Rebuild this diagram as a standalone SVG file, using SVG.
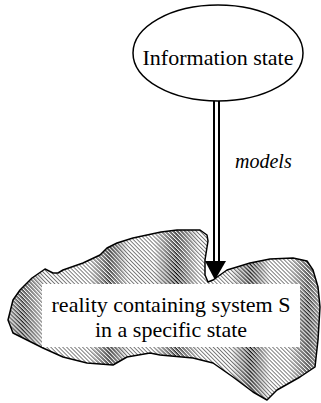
<svg xmlns="http://www.w3.org/2000/svg" width="321" height="403" viewBox="0 0 321 403">
  <style>
    .lbl { font-family: "Liberation Serif", "Times New Roman", serif; font-size: 22px; fill: #000; }
    .edge-lbl { font-family: "Liberation Serif", "Times New Roman", serif; font-size: 20px; font-style: italic; fill: #000; }
    .outline { fill: none; stroke: #000; stroke-width: 1.5; stroke-linejoin: round; }
  </style>
  <defs>
    <pattern id="hatch" width="2.8" height="2.8" patternUnits="userSpaceOnUse" patternTransform="rotate(-45)">
      <rect width="2.8" height="2.8" fill="#fff"/>
      <line x1="0" y1="0" x2="0" y2="2.8" stroke="#000" stroke-width="1"/>
    </pattern>
    <pattern id="hatchDark" width="2.8" height="2.8" patternUnits="userSpaceOnUse" patternTransform="rotate(-45)">
      <line x1="1.4" y1="0" x2="1.4" y2="2.8" stroke="#000" stroke-width="1"/>
    </pattern>
    <linearGradient id="bands" x1="0" y1="0" x2="321" y2="0" gradientUnits="userSpaceOnUse">
      <stop offset="0" stop-color="#fff" stop-opacity="0"/>
      <stop offset="0.07" stop-color="#fff" stop-opacity="0.9"/>
      <stop offset="0.14" stop-color="#fff" stop-opacity="0"/>
      <stop offset="0.28" stop-color="#fff" stop-opacity="0"/>
      <stop offset="0.34" stop-color="#fff" stop-opacity="1"/>
      <stop offset="0.40" stop-color="#fff" stop-opacity="0"/>
      <stop offset="0.48" stop-color="#fff" stop-opacity="0"/>
      <stop offset="0.55" stop-color="#fff" stop-opacity="1"/>
      <stop offset="0.62" stop-color="#fff" stop-opacity="0"/>
      <stop offset="0.72" stop-color="#fff" stop-opacity="0"/>
      <stop offset="0.78" stop-color="#fff" stop-opacity="1"/>
      <stop offset="0.84" stop-color="#fff" stop-opacity="0"/>
      <stop offset="0.90" stop-color="#fff" stop-opacity="0"/>
      <stop offset="0.96" stop-color="#fff" stop-opacity="0.9"/>
      <stop offset="1" stop-color="#fff" stop-opacity="0.3"/>
    </linearGradient>
    <mask id="bandMask" maskUnits="userSpaceOnUse" x="0" y="0" width="321" height="403">
      <rect x="0" y="0" width="321" height="403" fill="url(#bands)"/>
    </mask>
    <path id="blobShape" d="M8,320 L13,300 L20,290 L32,278 L45,269 L53,273 L58,273 L63,270 L83,263 L100,255 L107,248 L117,243 L133,238 L147,235 L161,232 L177,230 L200,230 L207,235 L208,241 L205,260 L205,275 L208,282 L213,280 L227,270 L237,267 L250,263 L270,259 L293,258 L307,261 L313,270 L318,287 L320,307 L318,340 L315,367 L300,377 L277,390 L267,400 L253,392 L233,377 L213,363 L193,358 L160,355 L150,353 L127,357 L113,365 L87,363 L63,357 L43,348 L27,340 L13,333 Z"/>
  </defs>

  <g id="reality">
    <use href="#blobShape" fill="url(#hatch)"/>
    <use href="#blobShape" fill="url(#hatchDark)" mask="url(#bandMask)"/>
    <use href="#blobShape" class="outline"/>
    <rect x="42" y="284" width="258" height="63" fill="#fff"/>
    <text class="lbl" x="171" y="312" text-anchor="middle" font-family="Liberation Serif, serif">reality containing system S</text>
    <text class="lbl" x="171" y="337" text-anchor="middle" font-family="Liberation Serif, serif">in a specific state</text>
  </g>

  <g id="info-state">
    <ellipse cx="218" cy="53" rx="85" ry="48" fill="#fff" stroke="#000" stroke-width="1.5"/>
    <text class="lbl" x="218" y="65" text-anchor="middle" font-family="Liberation Serif, serif">Information state</text>
  </g>

  <g id="connectors">
    <line x1="214" y1="101" x2="214" y2="263" stroke="#000" stroke-width="2"/>
    <line x1="219" y1="101" x2="219" y2="263" stroke="#000" stroke-width="2"/>
    <polygon points="205,261 226,261 215,280" fill="#000"/>
    <text class="edge-lbl" x="235" y="168" font-family="Liberation Serif, serif">models</text>
  </g>
</svg>
